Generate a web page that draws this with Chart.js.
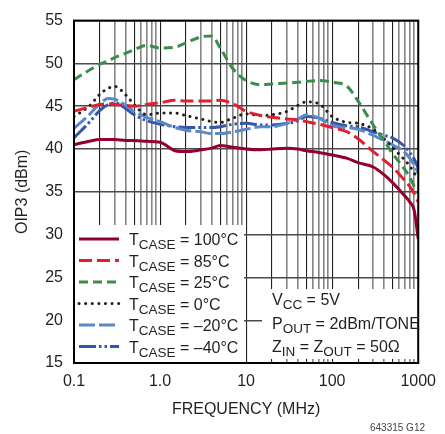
<!DOCTYPE html>
<html>
<head>
<meta charset="utf-8">
<script src="https://cdn.jsdelivr.net/npm/chart.js@4.4.0/dist/chart.umd.min.js"></script>
<style>
  html, body { margin: 0; padding: 0; background: #fff; }
  #wrap { width: 445px; height: 434px; }
</style>
</head>
<body>
<div id="wrap"><canvas id="oip3"></canvas></div>
<script>
// frequency points (MHz) shared by all curves
const freqMHz = [0.1, 0.15, 0.2, 0.25, 0.3, 0.4, 0.5, 0.7, 1, 1.5, 2, 3, 4, 5, 7, 10, 15, 20, 30, 40, 50, 70, 100, 150, 200, 300, 400, 500, 700, 800, 900, 1000];

// OIP3 (dBm) per case temperature
const t100 = [40.5, 40.9, 41.1, 41.1, 41.1, 41.0, 41.0, 40.9, 40.8, 39.8, 39.7, 39.9, 40.1, 40.4, 40.2, 40.0, 39.9, 40.0, 40.1, 40.0, 39.8, 39.6, 39.3, 38.9, 38.4, 37.9, 37.0, 36.1, 34.5, 33.8, 32.8, 29.5];
const t85 = [44.4, 44.9, 45.2, 45.3, 45.2, 45.1, 45.0, 45.2, 45.4, 45.7, 45.6, 45.6, 45.6, 45.7, 45.3, 44.4, 43.9, 43.7, 43.5, 43.4, 43.2, 42.9, 42.5, 42.0, 41.2, 39.7, 38.7, 37.9, 36.3, 35.6, 34.8, 33.8];
const t25 = [48.1, 49.2, 49.9, 50.3, 50.7, 51.2, 51.6, 52.1, 51.8, 51.9, 52.4, 53.1, 53.2, 51.8, 49.4, 48.0, 47.5, 47.6, 47.7, 47.8, 47.9, 48.0, 47.8, 47.3, 45.6, 42.8, 41.0, 39.5, 37.6, 36.7, 35.6, 34.8];
const t0 = [43.8, 45.0, 46.4, 47.1, 47.3, 46.3, 45.2, 44.0, 44.2, 44.2, 43.9, 43.5, 43.2, 43.1, 43.6, 44.1, 43.9, 44.0, 44.4, 45.1, 45.5, 45.3, 43.8, 43.1, 43.0, 42.3, 41.2, 40.2, 38.7, 38.0, 37.2, 36.5];
const tm20 = [42.4, 44.0, 45.3, 45.9, 45.8, 45.1, 44.4, 43.7, 43.2, 42.5, 42.2, 42.0, 41.8, 41.8, 42.0, 42.3, 42.6, 42.6, 43.0, 43.5, 44.0, 43.6, 42.7, 42.5, 42.3, 41.6, 41.0, 40.5, 39.6, 38.9, 38.1, 37.2];
const tm40 = [41.3, 43.1, 44.5, 45.2, 45.4, 44.7, 44.0, 43.3, 42.9, 42.6, 42.5, 42.5, 42.5, 42.6, 42.9, 43.0, 42.8, 42.8, 43.0, 43.3, 43.8, 43.6, 43.1, 42.7, 42.6, 42.0, 41.6, 41.3, 40.3, 39.6, 38.8, 37.8];

const legendTemps = ['100°C', '85°C', '25°C', '0°C', '–20°C', '–40°C'];
const xTickLabels = ['0.1', '1.0', '10', '100', '1000'];
const decades = [0.1, 1, 10, 100];

const FONT = '"Liberation Sans", Arial, sans-serif';
const INK = '#231f20';

// grid at every 1..9 x decade
let gridValues = [];
decades.forEach(d => {
  for (let m = 1; m <= 9; m++) gridValues.push(m * d);
});
gridValues.push(1000);

function mantissa(v) {
  return Math.round(v / Math.pow(10, Math.floor(Math.log10(v) + 1e-9)));
}

function series(label, values, color, dash, cap) {
  return {
    label: label,
    data: freqMHz.map((f, i) => ({x: f, y: values[i]})),
    borderColor: color,
    borderWidth: 3,
    borderDash: dash,
    borderCapStyle: cap || 'butt',
    pointRadius: 0,
    fill: false,
    cubicInterpolationMode: 'monotone'
  };
}

const datasets = [
  series('100', t100, '#93002b', []),
  series('85', t85, '#e31e2d', [13, 5]),
  series('25', t25, '#3a8d4c', [9, 5]),
  series('0', t0, '#231f20', [0.1, 6.5], 'round'),
  series('-20', tm20, '#5b88c9', [16, 4]),
  series('-40', tm40, '#3457a8', [17, 3, 2.5, 3, 2.5, 3])
];

function drawRich(ctx, x, y, parts) {
  parts.forEach((p, i) => {
    const sub = i % 2 === 1;
    ctx.font = (sub ? '13.5px ' : '16px ') + FONT;
    ctx.fillText(p, x, sub ? y + 4 : y);
    x += ctx.measureText(p).width;
  });
}

const boxesPlugin = {
  id: 'boxes',
  beforeDatasetsDraw(chart) {
    const ctx = chart.ctx;
    ctx.save();
    ctx.fillStyle = '#fff';
    ctx.fillRect(75, 225, 169, 138);
    ctx.fillRect(262, 289, 163, 70);
    ctx.restore();
  },
  afterDraw(chart) {
    const ctx = chart.ctx;
    const a = chart.chartArea;
    ctx.save();
    ctx.strokeStyle = '#000';
    ctx.lineWidth = 2;
    ctx.strokeRect(a.left, a.top, a.right - a.left, a.bottom - a.top);

    // legend
    ctx.fillStyle = INK;
    ctx.textBaseline = 'alphabetic';
    chart.data.datasets.forEach((ds, i) => {
      const y = 239 + i * 21.5;
      ctx.beginPath();
      ctx.strokeStyle = ds.borderColor;
      ctx.lineWidth = 3;
      ctx.setLineDash(ds.borderDash);
      ctx.lineCap = ds.borderCapStyle;
      ctx.moveTo(79, y);
      ctx.lineTo(119, y);
      ctx.stroke();
      ctx.setLineDash([]);
      drawRich(ctx, 129, y + 6, ['T', 'CASE', ' = ' + legendTemps[i]]);
    });

    // conditions
    drawRich(ctx, 272, 305, ['V', 'CC', ' = 5V']);
    drawRich(ctx, 272, 329, ['P', 'OUT', ' = 2dBm/TONE']);
    drawRich(ctx, 272, 352, ['Z', 'IN', ' = Z', 'OUT', ' = 50Ω']);

    ctx.font = '10px ' + FONT;
    ctx.textAlign = 'right';
    ctx.fillStyle = '#444';
    ctx.fillText('643315 G12', 425, 431);
    ctx.restore();
  }
};

new Chart(document.getElementById('oip3'), {
  type: 'line',
  data: {datasets: datasets},
  options: {
    responsive: true,
    maintainAspectRatio: false,
    animation: false,
    events: [],
    layout: {padding: {top: 13, right: 19, left: 0, bottom: 0}},
    plugins: {legend: {display: false}, tooltip: {enabled: false}},
    scales: {
      x: {
        type: 'logarithmic',
        min: 0.1,
        max: 1000,
        afterBuildTicks: scale => {
          scale.ticks = gridValues.map(v => ({value: v}));
        },
        afterFit: scale => { scale.height = 71; },
        ticks: {
          autoSkip: false,
          maxRotation: 0,
          padding: 9,
          color: INK,
          font: {family: FONT, size: 16},
          callback: value => {
            const k = decades.concat([1000]).findIndex(d => Math.abs(d - value) < d * 1e-6);
            return k >= 0 ? xTickLabels[k] : '';
          }
        },
        grid: {
          drawTicks: false,
          color: c => (c.tick && [1, 2, 5].includes(mantissa(c.tick.value))) ? '#222' : '#858585',
          lineWidth: c => (c.tick && [1, 2, 5].includes(mantissa(c.tick.value))) ? 1.1 : 1.6
        },
        border: {display: true, color: '#000', width: 2},
        title: {
          display: true,
          text: 'FREQUENCY (MHz)',
          color: INK,
          font: {family: FONT, size: 16},
          padding: {top: 0, bottom: 15}
        }
      },
      y: {
        min: 15,
        max: 55,
        afterFit: scale => { scale.width = 74; },
        ticks: {
          stepSize: 5,
          padding: 11,
          color: INK,
          font: {family: FONT, size: 16}
        },
        grid: {drawTicks: false, color: '#4a4a4a', lineWidth: 1.4},
        border: {display: true, color: '#000', width: 2},
        title: {
          display: true,
          text: 'OIP3 (dBm)',
          color: INK,
          font: {family: FONT, size: 16},
          padding: {top: 13, bottom: 0}
        }
      }
    }
  },
  plugins: [boxesPlugin]
});
</script>
</body>
</html>
